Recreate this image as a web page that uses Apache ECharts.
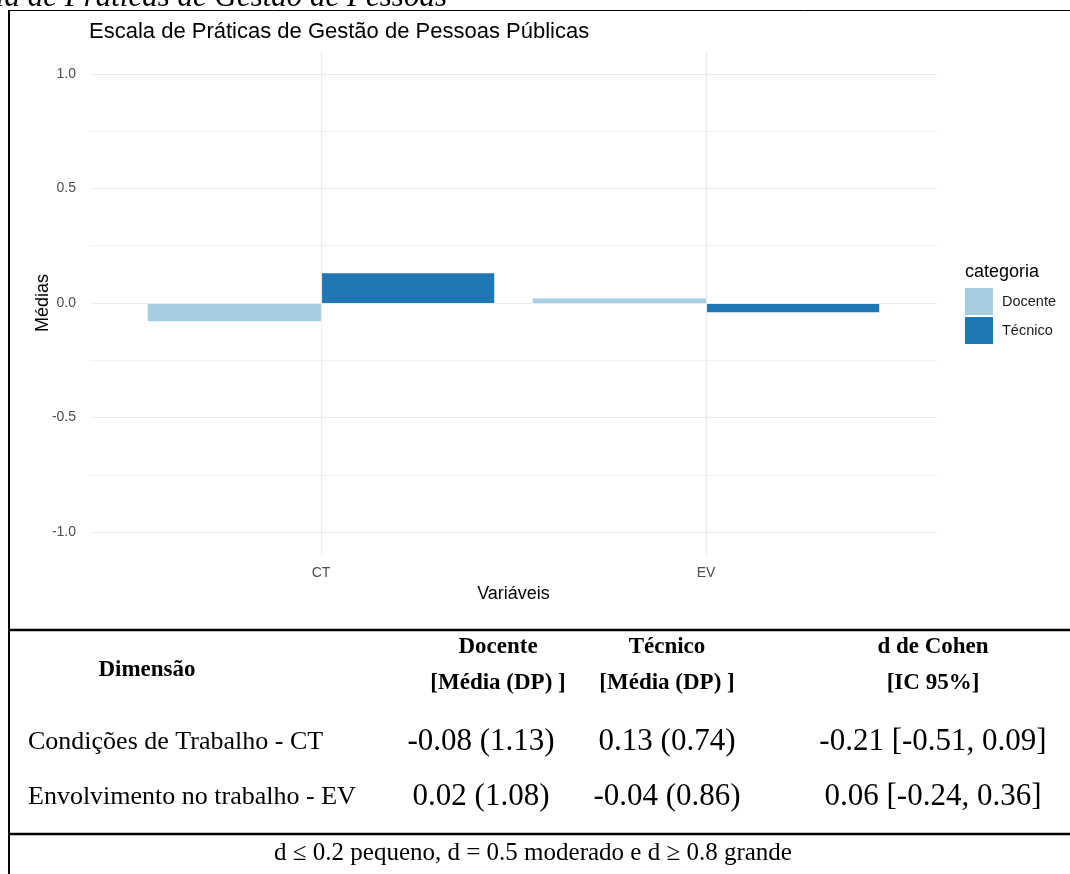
<!DOCTYPE html>
<html>
<head>
<meta charset="utf-8">
<script src="https://cdn.jsdelivr.net/npm/echarts@6/dist/echarts.min.js"></script>
<style>
  html, body { margin: 0; padding: 0; background: #ffffff; }
  #chart { width: 1070px; height: 874px; }
</style>
</head>
<body>
<div id="chart"></div>
<script>
// Mean scores per dimension and staff category
const categories = ['CT', 'EV'];
const groups = ['Docente', 'Técnico'];
const docenteMeans = [-0.08, 0.02];
const tecnicoMeans = [0.13, -0.04];
const yMajorTicks = [-1, -0.5, 0, 0.5, 1];
const yMinorTicks = [-0.75, -0.25, 0.25, 0.75];

// Summary table below the plot
const headerTop = ['Docente', 'Técnico', 'd de Cohen'];
const headerBottom = ['[Média (DP) ]', '[Média (DP) ]', '[IC 95%]'];
const rowLabels = ['Condições de Trabalho - CT', 'Envolvimento no trabalho - EV'];
const docenteCells = ['-0.08 (1.13)', '0.02 (1.08)'];
const tecnicoCells = ['0.13 (0.74)', '-0.04 (0.86)'];
const cohenCells = ['-0.21 [-0.51, 0.09]', '0.06 [-0.24, 0.36]'];
const footnote = 'd \u2264 0.2 pequeno, d = 0.5 moderado e d \u2265 0.8 grande';

const SANS = '"Liberation Sans", Arial, sans-serif';
const SERIF = '"Liberation Serif", "Times New Roman", serif';
const colors = ['#a6cee3', '#1f78b4'];

const chart = echarts.init(document.getElementById('chart'));

const PANEL = { left: 90, top: 51, width: 847, height: 504 };
const unit = PANEL.width / 2.2;           // width of one category step
const barPanelLeft = PANEL.left + 0.1 * unit;

function hLine(y, x1, x2, w) {
  return { type: 'line', silent: true, shape: { x1: x1, y1: y, x2: x2, y2: y },
           style: { stroke: '#000', lineWidth: w } };
}
function txt(x, y, text, font, align, valign) {
  return { type: 'text', silent: true, x: x, y: y,
           style: { text: text, font: font, fill: '#000', align: align || 'center',
                    verticalAlign: valign || 'middle' } };
}

const graphics = [
  txt(447, 13, 'Médias da Escala de Práticas de Gestão de Pessoas', 'italic 31px ' + SERIF, 'right', 'bottom'),
  { type: 'line', silent: true, shape: { x1: 9, y1: 10, x2: 9, y2: 874 }, style: { stroke: '#000', lineWidth: 2 } },
  hLine(10.5, 8, 1070, 1),
  hLine(630, 8, 1070, 2.5),
  hLine(834, 8, 1070, 2.5),
  // legend heading and y-axis title
  txt(965, 272, 'categoria', '18px ' + SANS, 'left'),
  Object.assign(txt(43, 303, 'Médias', '18px ' + SANS), { rotation: Math.PI / 2 }),
  txt(147, 670, 'Dimensão', 'bold 23px ' + SERIF)
];
const colX = [498, 667, 933];
const valX = [481, 667, 933];
headerTop.forEach((t, i) => graphics.push(txt(colX[i], 647, t, 'bold 23px ' + SERIF)));
headerBottom.forEach((t, i) => graphics.push(txt(colX[i], 683, t, 'bold 23px ' + SERIF)));
const rowY = [742, 797];
rowLabels.forEach((t, i) => {
  graphics.push(txt(28, rowY[i], t, '26px ' + SERIF, 'left'));
  graphics.push(txt(valX[0], rowY[i], docenteCells[i], '31px ' + SERIF));
  graphics.push(txt(valX[1], rowY[i], tecnicoCells[i], '31px ' + SERIF));
  graphics.push(txt(valX[2], rowY[i], cohenCells[i], '31px ' + SERIF));
});
graphics.push(txt(533, 853, footnote, '25px ' + SERIF));

const option = {
  animation: false,
  backgroundColor: '#ffffff',
  title: {
    text: 'Escala de Práticas de Gestão de Pessoas Públicas',
    left: 89, top: 21, padding: 0,
    textStyle: { fontFamily: SANS, fontSize: 22, fontWeight: 'normal', color: '#000' }
  },
  legend: {
    data: groups,
    orient: 'vertical', left: 965, top: 288, padding: 0,
    itemWidth: 28, itemHeight: 27, itemGap: 2, icon: 'rect',
    selectedMode: false,
    textStyle: { fontFamily: SANS, fontSize: 14.5, color: '#1a1a1a', padding: [0, 0, 0, 4] }
  },
  graphic: graphics,
  grid: [
    { left: PANEL.left, top: PANEL.top, width: PANEL.width, height: PANEL.height, containLabel: false },
    { left: barPanelLeft, top: PANEL.top, width: unit * 2, height: PANEL.height, containLabel: false }
  ],
  xAxis: [
    { gridIndex: 0, type: 'value', min: 0, max: 1, show: false },
    {
      gridIndex: 1, type: 'category', data: categories,
      name: 'Variáveis', nameLocation: 'middle', nameGap: 29,
      nameTextStyle: { fontFamily: SANS, fontSize: 18, color: '#000' },
      axisLine: { show: false }, axisTick: { show: false }, splitLine: { show: false },
      axisLabel: { fontFamily: SANS, fontSize: 14, color: '#4d4d4d', margin: 11 }
    }
  ],
  yAxis: [
    {
      gridIndex: 0, type: 'value', min: -1.1, max: 1.1,
      axisLine: { show: false }, axisTick: { show: false }, splitLine: { show: false },
      axisLabel: {
        customValues: yMajorTicks, fontFamily: SANS, fontSize: 14, color: '#4d4d4d', margin: 14,
        formatter: v => v.toFixed(1)
      }
    },
    { gridIndex: 1, type: 'value', min: -1.1, max: 1.1, show: false }
  ],
  series: [
    {
      // horizontal grid lines
      type: 'line', xAxisIndex: 0, yAxisIndex: 0, data: [], silent: true, z: 1,
      markLine: {
        silent: true, symbol: 'none', label: { show: false }, animation: false,
        data: yMajorTicks.map(v => ({ yAxis: v, lineStyle: { color: '#ebebeb', width: 1.1, type: 'solid' } }))
          .concat(yMinorTicks.map(v => ({ yAxis: v, lineStyle: { color: '#f0f0f0', width: 1, type: 'solid' } })))
      }
    },
    {
      // vertical grid lines at categories
      type: 'line', xAxisIndex: 1, yAxisIndex: 1, data: [], silent: true, z: 1,
      markLine: {
        silent: true, symbol: 'none', label: { show: false }, animation: false,
        lineStyle: { color: '#ebebeb', width: 1.1, type: 'solid' },
        data: categories.map(c => ({ xAxis: c }))
      }
    },
    {
      name: groups[0], type: 'bar', xAxisIndex: 1, yAxisIndex: 1, data: docenteMeans,
      itemStyle: { color: colors[0] }, barGap: '0%', barCategoryGap: '10%', z: 3, silent: true
    },
    {
      name: groups[1], type: 'bar', xAxisIndex: 1, yAxisIndex: 1, data: tecnicoMeans,
      itemStyle: { color: colors[1] }, barGap: '0%', barCategoryGap: '10%', z: 3, silent: true
    }
  ]
};
chart.setOption(option);
</script>
</body>
</html>
